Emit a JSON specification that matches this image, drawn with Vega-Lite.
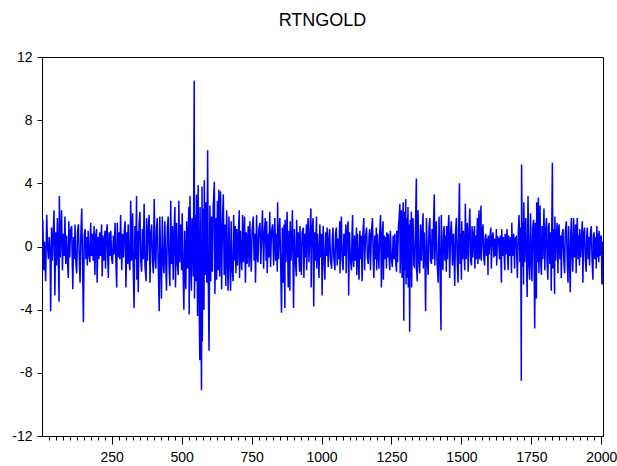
{
  "$schema": "https://vega.github.io/schema/vega-lite/v6.json",
  "width": 561,
  "height": 379,
  "autosize": {"type": "none"},
  "padding": {"left": 42, "top": 57, "right": 14, "bottom": 30},
  "background": "white",
  "title": {"text": "RTNGOLD", "fontSize": 18, "font": "Liberation Sans", "fontWeight": "normal", "color": "black", "baseline": "alphabetic", "offset": 6},
  "config": {"view": {"stroke": "black", "strokeWidth": 1}, "axis": {"grid": false, "domainColor": "black", "tickColor": "black", "labelColor": "black", "labelFont": "Liberation Sans", "labelFontSize": 14}},
  "data": {"values": [
{"t":1,"r":0.9},{"t":4,"r":1.7},{"t":7,"r":-1.5},{"t":10,"r":0.3},{"t":14,"r":-2.2},{"t":16,"r":0.0},{"t":18,"r":2.0},{"t":21,"r":0.0},{"t":24,"r":-0.8},{"t":27,"r":0.6},
{"t":30,"r":-0.5},{"t":32,"r":-4.1},{"t":35,"r":1.2},{"t":38,"r":-0.9},{"t":41,"r":0.8},{"t":44,"r":2.3},{"t":47,"r":-3.1},{"t":50,"r":0.9},{"t":53,"r":-1.2},{"t":56,"r":1.8},
{"t":59,"r":-0.6},{"t":62,"r":-3.5},{"t":63,"r":3.2},{"t":66,"r":-0.7},{"t":69,"r":1.1},{"t":71,"r":2.3},{"t":74,"r":-1.5},{"t":77,"r":0.8},{"t":80,"r":-0.6},{"t":83,"r":1.9},
{"t":86,"r":-1.1},{"t":89,"r":0.7},{"t":92,"r":-0.9},{"t":95,"r":-2.0},{"t":97,"r":1.6},{"t":100,"r":-0.7},{"t":103,"r":1.0},{"t":107,"r":1.3},{"t":111,"r":-2.7},{"t":114,"r":0.6},
{"t":117,"r":-0.8},{"t":119,"r":1.4},{"t":122,"r":-1.0},{"t":125,"r":-1.7},{"t":128,"r":0.9},{"t":131,"r":1.4},{"t":134,"r":-0.6},{"t":137,"r":-2.3},{"t":140,"r":0.8},{"t":143,"r":2.4},
{"t":146,"r":-0.9},{"t":149,"r":-4.8},{"t":152,"r":0.7},{"t":155,"r":1.1},{"t":158,"r":-0.8},{"t":161,"r":0.6},{"t":163,"r":-1.2},{"t":166,"r":1.0},{"t":169,"r":-0.5},{"t":172,"r":-1.0},
{"t":175,"r":1.5},{"t":178,"r":-0.6},{"t":181,"r":0.8},{"t":184,"r":-0.9},{"t":187,"r":1.3},{"t":190,"r":-1.8},{"t":193,"r":0.7},{"t":196,"r":1.1},{"t":198,"r":-2.3},{"t":201,"r":0.6},
{"t":204,"r":-0.8},{"t":207,"r":0.9},{"t":210,"r":-0.6},{"t":214,"r":1.4},{"t":216,"r":-1.9},{"t":219,"r":0.7},{"t":222,"r":-0.9},{"t":226,"r":1.0},{"t":228,"r":-1.4},{"t":231,"r":0.8},
{"t":234,"r":1.4},{"t":236,"r":-0.7},{"t":238,"r":-2.0},{"t":241,"r":0.9},{"t":244,"r":-0.6},{"t":247,"r":1.0},{"t":250,"r":-0.8},{"t":253,"r":-1.1},{"t":256,"r":0.7},{"t":259,"r":-0.5},
{"t":262,"r":1.5},{"t":265,"r":-0.9},{"t":268,"r":-2.6},{"t":270,"r":1.5},{"t":273,"r":-0.7},{"t":276,"r":0.9},{"t":279,"r":-0.8},{"t":282,"r":2.0},{"t":286,"r":-1.5},{"t":289,"r":0.8},
{"t":292,"r":-0.7},{"t":295,"r":1.0},{"t":298,"r":1.6},{"t":301,"r":-2.6},{"t":304,"r":0.9},{"t":307,"r":-1.1},{"t":309,"r":1.4},{"t":312,"r":-0.8},{"t":315,"r":-1.5},{"t":318,"r":2.9},
{"t":321,"r":-0.9},{"t":325,"r":2.1},{"t":327,"r":-1.2},{"t":330,"r":-3.9},{"t":333,"r":1.3},{"t":336,"r":-0.8},{"t":339,"r":3.2},{"t":340,"r":-2.1},{"t":343,"r":1.0},{"t":345,"r":-2.9},
{"t":348,"r":1.4},{"t":351,"r":2.2},{"t":354,"r":-0.9},{"t":357,"r":-1.6},{"t":360,"r":1.1},{"t":363,"r":-0.8},{"t":366,"r":2.7},{"t":369,"r":-1.2},{"t":373,"r":-2.2},{"t":375,"r":1.8},
{"t":378,"r":-0.9},{"t":381,"r":1.2},{"t":384,"r":2.0},{"t":387,"r":-2.3},{"t":390,"r":0.8},{"t":393,"r":1.4},{"t":396,"r":-1.0},{"t":399,"r":-1.7},{"t":402,"r":3.0},{"t":405,"r":-0.8},
{"t":408,"r":-1.4},{"t":410,"r":1.1},{"t":413,"r":1.8},{"t":416,"r":-0.9},{"t":420,"r":-4.1},{"t":422,"r":1.9},{"t":425,"r":-0.8},{"t":428,"r":-3.3},{"t":431,"r":1.9},{"t":434,"r":-1.0},
{"t":437,"r":-1.7},{"t":440,"r":1.6},{"t":443,"r":-0.9},{"t":446,"r":-2.8},{"t":449,"r":1.2},{"t":452,"r":1.9},{"t":455,"r":-1.2},{"t":458,"r":-2.5},{"t":461,"r":2.9},{"t":464,"r":-1.1},
{"t":467,"r":1.3},{"t":470,"r":-2.1},{"t":473,"r":1.0},{"t":476,"r":2.5},{"t":478,"r":-2.6},{"t":482,"r":1.5},{"t":485,"r":-1.1},{"t":488,"r":-1.8},{"t":490,"r":2.9},{"t":493,"r":-1.0},
{"t":496,"r":1.4},{"t":500,"r":-1.5},{"t":502,"r":2.1},{"t":505,"r":-1.3},{"t":508,"r":-4.0},{"t":511,"r":1.0},{"t":515,"r":-2.7},{"t":518,"r":1.6},{"t":521,"r":-1.4},{"t":524,"r":1.3},
{"t":526,"r":2.5},{"t":527,"r":-4.3},{"t":530,"r":3.2},{"t":533,"r":-1.5},{"t":535,"r":-2.8},{"t":537,"r":1.8},{"t":539,"r":0.9},{"t":542,"r":-1.9},{"t":545,"r":10.5},{"t":546,"r":-3.3},
{"t":549,"r":2.0},{"t":552,"r":-2.2},{"t":553,"r":3.3},{"t":557,"r":-4.4},{"t":559,"r":3.9},{"t":562,"r":-2.6},{"t":565,"r":-7.2},{"t":566,"r":2.5},{"t":569,"r":-3.5},{"t":571,"r":-9.1},
{"t":573,"r":3.8},{"t":574,"r":-6.0},{"t":577,"r":2.4},{"t":580,"r":-4.0},{"t":581,"r":4.2},{"t":584,"r":-1.8},{"t":587,"r":2.8},{"t":590,"r":-2.3},{"t":593,"r":6.1},{"t":595,"r":-1.6},
{"t":598,"r":-6.6},{"t":601,"r":2.6},{"t":604,"r":-2.2},{"t":607,"r":1.9},{"t":610,"r":-1.6},{"t":613,"r":2.6},{"t":617,"r":4.1},{"t":619,"r":-3.0},{"t":622,"r":1.8},{"t":625,"r":-2.1},
{"t":628,"r":2.9},{"t":631,"r":-1.5},{"t":633,"r":3.6},{"t":636,"r":-1.9},{"t":639,"r":3.5},{"t":643,"r":-2.7},{"t":646,"r":1.6},{"t":649,"r":3.3},{"t":652,"r":-1.8},{"t":655,"r":1.4},
{"t":658,"r":-2.5},{"t":661,"r":2.3},{"t":664,"r":-1.2},{"t":666,"r":-2.8},{"t":669,"r":1.9},{"t":672,"r":-1.0},{"t":675,"r":-2.8},{"t":677,"r":1.6},{"t":680,"r":-1.3},{"t":684,"r":-2.2},
{"t":686,"r":2.0},{"t":689,"r":-0.9},{"t":692,"r":1.3},{"t":694,"r":-1.7},{"t":697,"r":1.1},{"t":700,"r":-1.2},{"t":703,"r":0.9},{"t":706,"r":2.3},{"t":707,"r":-2.0},{"t":710,"r":1.0},
{"t":713,"r":-0.8},{"t":715,"r":-1.5},{"t":718,"r":2.0},{"t":721,"r":-1.0},{"t":725,"r":1.9},{"t":728,"r":-2.3},{"t":731,"r":0.9},{"t":734,"r":-1.1},{"t":738,"r":1.3},{"t":741,"r":-1.3},
{"t":744,"r":1.6},{"t":747,"r":-0.7},{"t":749,"r":-1.6},{"t":752,"r":1.0},{"t":756,"r":1.9},{"t":759,"r":-0.9},{"t":762,"r":0.8},{"t":764,"r":-2.3},{"t":768,"r":2.0},{"t":771,"r":-0.8},
{"t":773,"r":-1.0},{"t":776,"r":1.1},{"t":780,"r":1.5},{"t":783,"r":-1.1},{"t":786,"r":0.7},{"t":789,"r":2.3},{"t":793,"r":-1.4},{"t":796,"r":0.9},{"t":799,"r":1.8},{"t":802,"r":-0.9},
{"t":804,"r":1.6},{"t":806,"r":-1.7},{"t":809,"r":0.8},{"t":812,"r":-0.7},{"t":815,"r":2.2},{"t":818,"r":-1.3},{"t":821,"r":0.9},{"t":825,"r":1.4},{"t":829,"r":-1.2},{"t":831,"r":0.7},
{"t":833,"r":1.8},{"t":836,"r":-0.9},{"t":839,"r":0.8},{"t":842,"r":-1.6},{"t":843,"r":2.8},{"t":846,"r":-0.8},{"t":849,"r":1.0},{"t":851,"r":1.8},{"t":854,"r":-1.1},{"t":857,"r":-4.2},
{"t":860,"r":1.2},{"t":863,"r":-2.3},{"t":866,"r":1.4},{"t":869,"r":-3.9},{"t":870,"r":1.7},{"t":873,"r":-1.0},{"t":877,"r":2.2},{"t":881,"r":-2.6},{"t":884,"r":1.0},{"t":887,"r":-2.8},
{"t":888,"r":1.6},{"t":891,"r":-0.9},{"t":894,"r":0.8},{"t":896,"r":2.3},{"t":900,"r":-3.9},{"t":903,"r":1.1},{"t":906,"r":-0.8},{"t":910,"r":-1.9},{"t":911,"r":1.7},{"t":914,"r":-0.7},
{"t":917,"r":0.9},{"t":920,"r":-1.1},{"t":922,"r":-1.6},{"t":923,"r":1.3},{"t":926,"r":-0.6},{"t":928,"r":-1.8},{"t":931,"r":0.9},{"t":935,"r":1.2},{"t":937,"r":-2.0},{"t":940,"r":0.8},
{"t":943,"r":-0.7},{"t":946,"r":1.4},{"t":947,"r":-1.5},{"t":950,"r":0.9},{"t":952,"r":1.8},{"t":955,"r":-1.0},{"t":958,"r":0.7},{"t":962,"r":2.4},{"t":963,"r":-2.6},{"t":966,"r":1.0},
{"t":970,"r":1.8},{"t":972,"r":-3.8},{"t":975,"r":0.9},{"t":978,"r":-0.9},{"t":982,"r":1.9},{"t":983,"r":-1.4},{"t":986,"r":0.8},{"t":989,"r":-0.9},{"t":991,"r":-2.0},{"t":994,"r":1.4},
{"t":997,"r":-0.7},{"t":1000,"r":0.8},{"t":1002,"r":-3.1},{"t":1006,"r":1.3},{"t":1009,"r":-0.8},{"t":1012,"r":-2.1},{"t":1015,"r":0.9},{"t":1018,"r":-0.6},{"t":1020,"r":1.2},{"t":1024,"r":-1.3},
{"t":1027,"r":0.7},{"t":1029,"r":1.1},{"t":1032,"r":-0.8},{"t":1036,"r":-1.4},{"t":1039,"r":0.6},{"t":1041,"r":1.2},{"t":1044,"r":-0.7},{"t":1048,"r":-1.5},{"t":1050,"r":0.8},{"t":1053,"r":1.2},
{"t":1056,"r":-1.2},{"t":1059,"r":0.5},{"t":1062,"r":-0.8},{"t":1065,"r":1.6},{"t":1066,"r":-1.7},{"t":1069,"r":0.7},{"t":1071,"r":1.9},{"t":1074,"r":-0.9},{"t":1077,"r":-1.5},{"t":1080,"r":0.8},
{"t":1083,"r":-0.6},{"t":1087,"r":1.4},{"t":1088,"r":-1.7},{"t":1091,"r":0.6},{"t":1095,"r":1.6},{"t":1097,"r":-3.1},{"t":1100,"r":0.9},{"t":1103,"r":-0.7},{"t":1107,"r":-1.5},{"t":1109,"r":0.8},
{"t":1111,"r":2.0},{"t":1113,"r":-0.8},{"t":1115,"r":-1.3},{"t":1118,"r":0.7},{"t":1121,"r":-0.9},{"t":1125,"r":1.2},{"t":1126,"r":-1.8},{"t":1129,"r":0.8},{"t":1131,"r":-0.7},{"t":1134,"r":-2.1},
{"t":1137,"r":1.0},{"t":1140,"r":-0.8},{"t":1142,"r":0.7},{"t":1145,"r":-2.2},{"t":1148,"r":0.9},{"t":1151,"r":1.8},{"t":1154,"r":-1.5},{"t":1157,"r":0.6},{"t":1161,"r":1.2},{"t":1164,"r":-0.7},
{"t":1167,"r":-1.1},{"t":1170,"r":0.7},{"t":1172,"r":1.1},{"t":1175,"r":-1.5},{"t":1178,"r":0.8},{"t":1182,"r":1.8},{"t":1185,"r":-0.9},{"t":1187,"r":-2.0},{"t":1190,"r":0.7},{"t":1193,"r":-0.8},
{"t":1196,"r":1.2},{"t":1197,"r":-1.5},{"t":1200,"r":0.8},{"t":1203,"r":-0.6},{"t":1205,"r":-1.4},{"t":1208,"r":0.9},{"t":1211,"r":2.0},{"t":1214,"r":-2.6},{"t":1217,"r":0.8},{"t":1220,"r":1.6},
{"t":1221,"r":-2.1},{"t":1224,"r":0.7},{"t":1227,"r":-0.8},{"t":1230,"r":0.6},{"t":1232,"r":-1.4},{"t":1233,"r":0.9},{"t":1236,"r":-0.7},{"t":1239,"r":0.8},{"t":1242,"r":-0.9},{"t":1244,"r":-1.5},
{"t":1246,"r":1.0},{"t":1249,"r":-0.6},{"t":1253,"r":-1.3},{"t":1256,"r":0.7},{"t":1259,"r":-0.8},{"t":1262,"r":0.8},{"t":1265,"r":-0.9},{"t":1268,"r":-1.6},{"t":1269,"r":1.0},{"t":1272,"r":-1.0},
{"t":1275,"r":1.3},{"t":1277,"r":1.7},{"t":1280,"r":2.7},{"t":1281,"r":-1.7},{"t":1284,"r":1.9},{"t":1285,"r":2.3},{"t":1288,"r":-2.0},{"t":1290,"r":1.6},{"t":1292,"r":2.8},{"t":1294,"r":-4.7},
{"t":1296,"r":2.2},{"t":1299,"r":-1.5},{"t":1301,"r":3.0},{"t":1302,"r":-2.4},{"t":1304,"r":1.8},{"t":1306,"r":-2.0},{"t":1309,"r":2.5},{"t":1310,"r":-2.6},{"t":1313,"r":1.4},{"t":1315,"r":-5.4},
{"t":1317,"r":1.7},{"t":1319,"r":-2.0},{"t":1321,"r":2.2},{"t":1322,"r":-2.6},{"t":1325,"r":1.3},{"t":1327,"r":1.8},{"t":1330,"r":-1.2},{"t":1333,"r":-1.3},{"t":1336,"r":1.5},{"t":1339,"r":4.3},
{"t":1340,"r":-1.4},{"t":1342,"r":-2.2},{"t":1345,"r":2.3},{"t":1348,"r":-1.0},{"t":1351,"r":-1.7},{"t":1354,"r":1.4},{"t":1357,"r":-0.9},{"t":1360,"r":1.0},{"t":1363,"r":2.1},{"t":1364,"r":-1.4},
{"t":1367,"r":0.9},{"t":1370,"r":-1.1},{"t":1372,"r":-4.1},{"t":1375,"r":1.8},{"t":1378,"r":-0.8},{"t":1381,"r":-1.8},{"t":1384,"r":1.1},{"t":1387,"r":1.8},{"t":1390,"r":-0.9},{"t":1393,"r":-1.1},
{"t":1395,"r":1.1},{"t":1398,"r":-0.8},{"t":1400,"r":1.2},{"t":1403,"r":3.3},{"t":1405,"r":-1.2},{"t":1408,"r":0.9},{"t":1410,"r":1.6},{"t":1413,"r":-1.0},{"t":1417,"r":-2.3},{"t":1420,"r":1.9},
{"t":1423,"r":-0.9},{"t":1427,"r":-5.3},{"t":1428,"r":2.0},{"t":1431,"r":-0.8},{"t":1434,"r":-1.5},{"t":1436,"r":0.9},{"t":1438,"r":1.3},{"t":1441,"r":-0.9},{"t":1444,"r":0.7},{"t":1446,"r":-1.6},
{"t":1447,"r":1.3},{"t":1450,"r":-0.8},{"t":1452,"r":0.9},{"t":1455,"r":2.0},{"t":1458,"r":-2.0},{"t":1461,"r":0.8},{"t":1464,"r":1.6},{"t":1468,"r":-1.2},{"t":1470,"r":0.7},{"t":1472,"r":0.8},
{"t":1476,"r":-2.5},{"t":1479,"r":0.9},{"t":1482,"r":1.8},{"t":1485,"r":-0.9},{"t":1488,"r":-2.3},{"t":1490,"r":1.0},{"t":1493,"r":4.0},{"t":1495,"r":-1.1},{"t":1497,"r":0.8},{"t":1500,"r":-2.1},
{"t":1501,"r":1.6},{"t":1504,"r":-0.8},{"t":1507,"r":1.0},{"t":1510,"r":-0.7},{"t":1512,"r":-1.5},{"t":1514,"r":2.7},{"t":1517,"r":-0.8},{"t":1521,"r":1.5},{"t":1524,"r":-1.6},{"t":1527,"r":0.8},
{"t":1530,"r":2.4},{"t":1533,"r":-0.9},{"t":1536,"r":-1.2},{"t":1538,"r":1.3},{"t":1541,"r":-0.7},{"t":1544,"r":0.8},{"t":1547,"r":1.3},{"t":1548,"r":-1.4},{"t":1551,"r":0.7},{"t":1554,"r":-0.8},
{"t":1557,"r":1.8},{"t":1559,"r":-1.1},{"t":1563,"r":2.3},{"t":1565,"r":-0.8},{"t":1567,"r":1.0},{"t":1570,"r":2.6},{"t":1571,"r":-0.9},{"t":1574,"r":0.6},{"t":1577,"r":1.4},{"t":1580,"r":-0.7},
{"t":1583,"r":-1.2},{"t":1585,"r":0.6},{"t":1587,"r":0.8},{"t":1590,"r":-0.6},{"t":1593,"r":0.5},{"t":1595,"r":-1.8},{"t":1596,"r":0.7},{"t":1599,"r":-0.5},{"t":1602,"r":0.6},{"t":1605,"r":1.2},
{"t":1607,"r":-1.4},{"t":1610,"r":0.6},{"t":1613,"r":0.9},{"t":1616,"r":-0.7},{"t":1619,"r":0.5},{"t":1622,"r":-0.6},{"t":1625,"r":1.1},{"t":1626,"r":-1.2},{"t":1629,"r":0.6},{"t":1633,"r":0.5},
{"t":1636,"r":-0.8},{"t":1639,"r":0.7},{"t":1643,"r":-2.3},{"t":1644,"r":1.1},{"t":1647,"r":-0.6},{"t":1650,"r":0.6},{"t":1653,"r":-0.7},{"t":1655,"r":-1.5},{"t":1656,"r":0.8},{"t":1659,"r":-0.5},
{"t":1663,"r":1.1},{"t":1665,"r":-0.7},{"t":1667,"r":-1.5},{"t":1669,"r":0.7},{"t":1672,"r":-0.6},{"t":1676,"r":0.6},{"t":1679,"r":-1.7},{"t":1680,"r":1.5},{"t":1683,"r":-0.6},{"t":1687,"r":0.8},
{"t":1690,"r":-1.4},{"t":1692,"r":0.5},{"t":1696,"r":0.6},{"t":1698,"r":-0.7},{"t":1700,"r":-2.0},{"t":1703,"r":0.8},{"t":1706,"r":2.0},{"t":1709,"r":-1.0},{"t":1712,"r":1.2},{"t":1714,"r":-8.5},
{"t":1715,"r":5.2},{"t":1718,"r":-1.3},{"t":1720,"r":1.5},{"t":1722,"r":-2.4},{"t":1723,"r":2.8},{"t":1726,"r":-1.0},{"t":1730,"r":1.8},{"t":1733,"r":-1.2},{"t":1735,"r":-3.2},{"t":1738,"r":3.2},
{"t":1741,"r":-1.1},{"t":1744,"r":-2.1},{"t":1747,"r":2.1},{"t":1750,"r":-1.0},{"t":1752,"r":-2.2},{"t":1755,"r":1.2},{"t":1758,"r":1.7},{"t":1760,"r":-1.4},{"t":1762,"r":-5.2},{"t":1764,"r":1.5},
{"t":1766,"r":-1.2},{"t":1768,"r":-3.3},{"t":1769,"r":2.8},{"t":1772,"r":-1.0},{"t":1775,"r":3.1},{"t":1777,"r":-1.7},{"t":1779,"r":1.4},{"t":1781,"r":2.6},{"t":1783,"r":-0.9},{"t":1786,"r":-1.8},
{"t":1788,"r":1.3},{"t":1791,"r":-0.8},{"t":1795,"r":2.4},{"t":1798,"r":-1.5},{"t":1801,"r":1.0},{"t":1804,"r":1.8},{"t":1806,"r":-0.9},{"t":1809,"r":-2.1},{"t":1811,"r":1.2},{"t":1813,"r":1.5},
{"t":1816,"r":-1.1},{"t":1819,"r":0.9},{"t":1821,"r":-2.8},{"t":1823,"r":1.3},{"t":1825,"r":5.3},{"t":1827,"r":-1.4},{"t":1830,"r":1.1},{"t":1833,"r":-3.0},{"t":1834,"r":1.9},{"t":1837,"r":-0.9},
{"t":1840,"r":0.8},{"t":1842,"r":1.5},{"t":1845,"r":-1.7},{"t":1847,"r":0.9},{"t":1849,"r":1.4},{"t":1852,"r":-0.8},{"t":1855,"r":0.7},{"t":1857,"r":-2.0},{"t":1860,"r":0.8},{"t":1863,"r":1.1},
{"t":1866,"r":-0.9},{"t":1869,"r":-1.7},{"t":1871,"r":0.9},{"t":1875,"r":1.6},{"t":1878,"r":-0.8},{"t":1881,"r":-2.3},{"t":1883,"r":1.3},{"t":1886,"r":-0.7},{"t":1889,"r":-2.9},{"t":1891,"r":1.0},
{"t":1893,"r":1.8},{"t":1896,"r":-0.8},{"t":1898,"r":-1.6},{"t":1901,"r":1.8},{"t":1904,"r":-0.7},{"t":1908,"r":1.4},{"t":1910,"r":-1.7},{"t":1912,"r":0.8},{"t":1914,"r":1.8},{"t":1917,"r":-0.8},
{"t":1920,"r":0.7},{"t":1922,"r":-1.2},{"t":1923,"r":1.1},{"t":1926,"r":-0.7},{"t":1929,"r":0.6},{"t":1932,"r":1.6},{"t":1934,"r":-2.3},{"t":1937,"r":0.8},{"t":1940,"r":1.2},{"t":1943,"r":-0.9},
{"t":1946,"r":-1.6},{"t":1948,"r":0.7},{"t":1950,"r":1.2},{"t":1953,"r":-0.8},{"t":1956,"r":0.6},{"t":1958,"r":-1.2},{"t":1961,"r":0.8},{"t":1964,"r":1.3},{"t":1967,"r":-0.9},{"t":1970,"r":-2.1},
{"t":1972,"r":0.7},{"t":1974,"r":0.9},{"t":1977,"r":-0.8},{"t":1980,"r":0.6},{"t":1982,"r":-1.4},{"t":1984,"r":1.3},{"t":1987,"r":-0.7},{"t":1990,"r":0.8},{"t":1991,"r":-1.0},{"t":1992,"r":1.0},
{"t":1995,"r":-0.6},{"t":1998,"r":0.7},{"t":2000,"r":0.6},{"t":2002,"r":-2.4},{"t":2004,"r":0.3},{"t":2005,"r":-2.4}
  ]},
  "mark": {"type": "line", "color": "#0000FF", "strokeWidth": 1.5, "interpolate": "linear", "clip": true},
  "encoding": {
    "x": {"field": "t", "type": "quantitative", "title": null,
      "scale": {"domain": [1, 2006], "nice": false, "zero": false},
      "axis": {"values": [25,50,75,100,125,150,175,200,225,250,275,300,325,350,375,400,425,450,475,500,525,550,575,600,625,650,675,700,725,750,775,800,825,850,875,900,925,950,975,1000,1025,1050,1075,1100,1125,1150,1175,1200,1225,1250,1275,1300,1325,1350,1375,1400,1425,1450,1475,1500,1525,1550,1575,1600,1625,1650,1675,1700,1725,1750,1775,1800,1825,1850,1875,1900,1925,1950,1975,2000],
        "format": "d", "labelExpr": "datum.value % 250 === 0 ? datum.label : ''",
        "tickSize": {"condition": {"test": "datum.value % 250 === 0", "value": 8}, "value": 4},
        "labelPadding": 6, "labelOverlap": false, "labelFlush": false}},
    "y": {"field": "r", "type": "quantitative", "title": null,
      "scale": {"domain": [-12, 12], "nice": false, "zero": false},
      "axis": {"values": [-12,-8,-4,0,4,8,12], "labelExpr": "'' + datum.value", "tickSize": 5, "labelPadding": 5, "labelOverlap": false, "labelFlush": false}}
  }
}
